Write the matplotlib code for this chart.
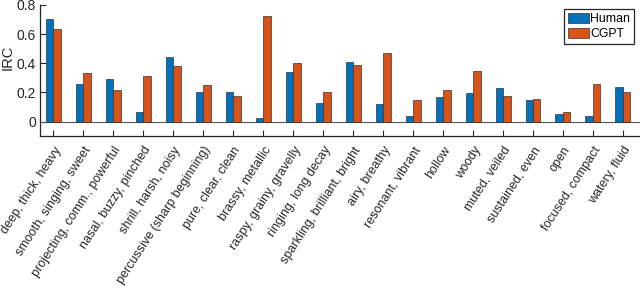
import matplotlib
matplotlib.use("Agg")
import matplotlib.pyplot as plt
import numpy as np

plt.rcParams['font.family'] = ['Liberation Sans', 'DejaVu Sans']

categories = [
    "deep, thick, heavy", "smooth, singing, sweet", "projecting, comm., powerful",
    "nasal, buzzy, pinched", "shrill, harsh, noisy", "percussive (sharp beginning)",
    "pure, clear, clean", "brassy, metallic", "raspy, grainy, gravelly",
    "ringing, long decay", "sparkling, brilliant, bright", "airy, breathy",
    "resonant, vibrant", "hollow", "woody", "muted, veiled", "sustained, even",
    "open", "focused, compact", "watery, fluid",
]
human = [0.70, 0.255, 0.294, 0.063, 0.445, 0.20, 0.20, 0.021, 0.341, 0.125,
         0.408, 0.12, 0.037, 0.169, 0.193, 0.227, 0.146, 0.051, 0.037, 0.239]
cgpt = [0.638, 0.336, 0.218, 0.313, 0.378, 0.25, 0.174, 0.726, 0.403, 0.20,
        0.39, 0.47, 0.151, 0.216, 0.346, 0.176, 0.153, 0.067, 0.257, 0.20]
yticks = [0, 0.2, 0.4, 0.6, 0.8]

fig = plt.figure(figsize=(6.4, 2.89), dpi=100)
ax = fig.add_axes([0.0625, 0.529, 0.9375, 0.454])

x = np.arange(1, len(categories) + 1)
w = 0.25
ax.bar(x - w / 2, human, w, color='#0072BD', edgecolor='#333333', lw=0.5, label='Human', zorder=3)
ax.bar(x + w / 2, cgpt, w, color='#D95319', edgecolor='#333333', lw=0.5, label='CGPT', zorder=3)
ax.axhline(0, color='#555555', lw=0.8, zorder=2)

ax.set_xlim(0.55, 20.57)
ax.set_ylim(-0.1, 0.8)
ax.set_yticks(yticks)
ax.set_yticklabels(['0', '0.2', '0.4', '0.6', '0.8'])
ax.set_xticks(x)
ax.set_xticklabels(categories, rotation=57, ha='right', rotation_mode='anchor')
ax.tick_params(direction='in', length=4, width=0.8, colors='#262626', labelsize=10)
ax.tick_params(axis='x', pad=6, labelsize=9)
ax.tick_params(axis='y', pad=3)
ax.set_ylabel('IRC', fontsize=10.5, color='#262626')
ax.yaxis.set_label_coords(-0.043, 0.6)

for s in ['top', 'right']:
    ax.spines[s].set_visible(False)
for s in ['left', 'bottom']:
    ax.spines[s].set_color('#262626')
    ax.spines[s].set_linewidth(0.9)

leg = ax.legend(loc='upper right', fontsize=8.8, fancybox=False, framealpha=1,
                edgecolor='#262626', handlelength=1.7, handleheight=0.95,
                handletextpad=0.15, borderpad=0.3, labelspacing=0.22,
                borderaxespad=0, bbox_to_anchor=(0.99, 0.97))
leg.get_frame().set_linewidth(0.9)

fig.savefig('out.png', dpi=100)
